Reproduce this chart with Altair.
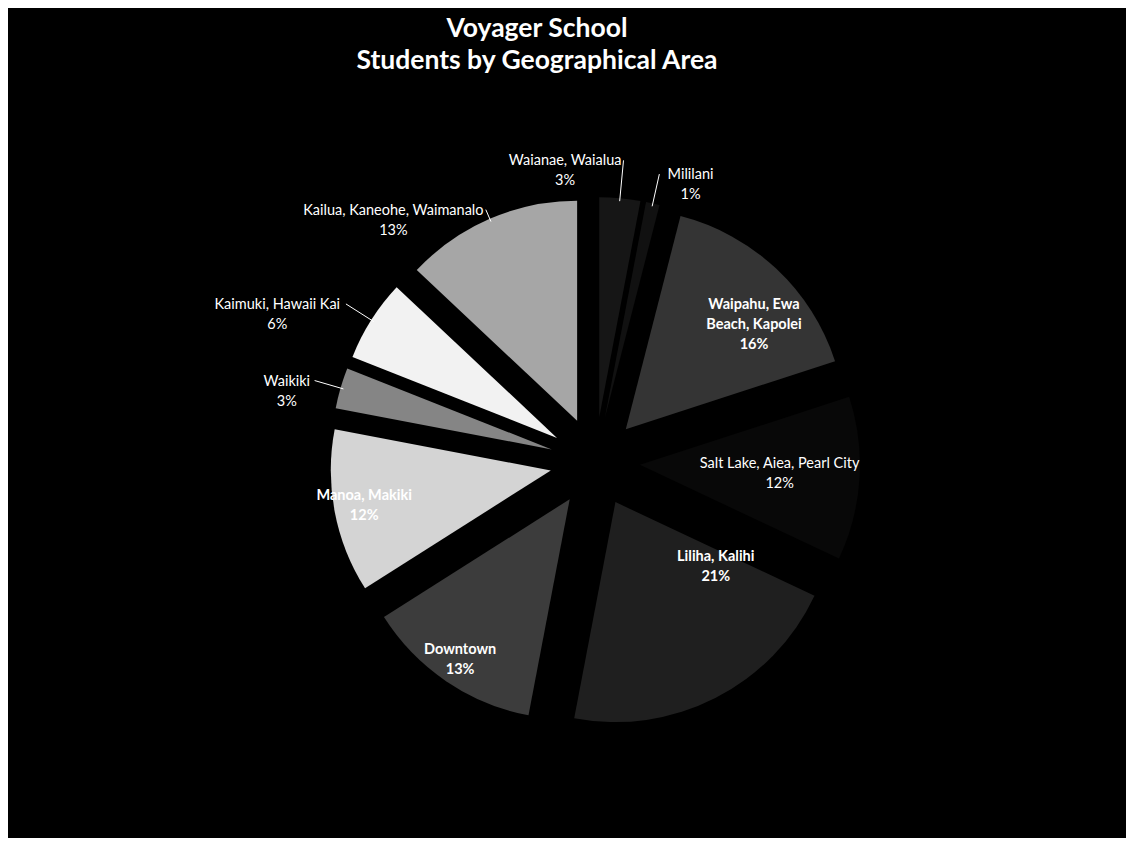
import altair as alt
import pandas as pd

# ---------------- data ----------------
areas = [
    "Waianae, Waialua",
    "Mililani",
    "Waipahu, Ewa Beach, Kapolei",
    "Salt Lake, Aiea, Pearl City",
    "Liliha, Kalihi",
    "Downtown",
    "Manoa, Makiki",
    "Waikiki",
    "Kaimuki, Hawaii Kai",
    "Kailua, Kaneohe, Waimanalo",
]
percent = [3, 1, 16, 12, 21, 13, 12, 3, 6, 13]
title_lines = ["Voyager School", "Students by Geographical Area"]

# ---------------- style ----------------
grays = ["#161616", "#111111", "#343434", "#080808", "#1f1f1f",
         "#3c3c3c", "#d4d4d4", "#858585", "#f2f2f2", "#a6a6a6"]
wrap = {"Waipahu, Ewa Beach, Kapolei": "Waipahu, Ewa\nBeach, Kapolei"}
# outside labels: side of the leader (-1 left, 1 right) and leader extension
outside_side = {"Waianae, Waialua": -1, "Mililani": 1,
                "Kailua, Kaneohe, Waimanalo": -1,
                "Kaimuki, Hawaii Kai": -1, "Waikiki": -1}
leader_ext = {"Waianae, Waialua": 38, "Mililani": 30,
              "Kailua, Kaneohe, Waimanalo": 10,
              "Kaimuki, Hawaii Kai": 30, "Waikiki": 27}
# inside labels: radius and angular nudge (degrees)
inside_r = {"Salt Lake, Aiea, Pearl City": 185, "Liliha, Kalihi": 160,
            "Waipahu, Ewa Beach, Kapolei": 210, "Downtown": 240,
            "Manoa, Makiki": 235}
inside_dtheta = {"Liliha, Kalihi": -22, "Waipahu, Ewa Beach, Kapolei": 6}
bold_labels = {"Waipahu, Ewa Beach, Kapolei", "Downtown", "Manoa, Makiki", "Liliha, Kalihi"}

W, H = 1118, 830
CX, CY = 587, 454
R, E = 220, 45
R_IN = 226
FS = 14.5
CW = 3.4  # half char width estimate
LH = 20
FONT = "Lato"

df = pd.DataFrame({
    "area": areas,
    "pct": percent,
    "order": list(range(len(areas))),
})
df["label"] = [wrap.get(a, a) + "\n" + f"{p}%" for a, p in zip(areas, percent)]
df["nlines"] = [lab.count("\n") + 1 for lab in df["label"]]
df["outside"] = [a in outside_side for a in areas]
df["side"] = [outside_side.get(a, 0) for a in areas]
df["lr"] = [R + E + leader_ext[a] if a in leader_ext else inside_r.get(a, R_IN) for a in areas]
df["dth"] = [inside_dtheta.get(a, 0) for a in areas]
df["bold"] = [a in bold_labels for a in areas]

base = alt.Chart(df).transform_window(
    cum="sum(pct)", sort=[alt.SortField("order")], frame=[None, 0]
).transform_joinaggregate(
    total="sum(pct)"
).transform_calculate(
    t1="datum.cum / datum.total * 2 * PI"
).transform_calculate(
    t0="(datum.cum - datum.pct) / datum.total * 2 * PI"
).transform_calculate(
    mid="(datum.t0 + datum.t1) / 2"
).transform_calculate(
    sx=f"{CX} + {E} * sin(datum.mid)",
    sy=f"{CY} - {E} * cos(datum.mid)",
)

arcs = base.mark_arc(radius=R, strokeWidth=0).encode(
    theta=alt.Theta("t0:Q", scale=None),
    theta2=alt.Theta2("t1:Q"),
    x=alt.X("sx:Q", scale=None, axis=None),
    y=alt.Y("sy:Q", scale=None, axis=None),
    color=alt.Color("area:N", scale=alt.Scale(domain=areas, range=grays), legend=None),
)

lab = base.transform_calculate(
    la="datum.mid + datum.dth * PI / 180"
).transform_calculate(
    ax=f"{CX} + datum.lr * sin(datum.la)",
    ay=f"{CY} - datum.lr * cos(datum.la)",
    hw=f"length(datum.area) * {CW}",
).transform_calculate(
    lx="datum.outside ? datum.ax + datum.side * (datum.hw + 4) : datum.ax",
    ly=f"datum.outside ? datum.ay + 1 : datum.ay - (datum.nlines - 1) * {LH} / 2",
)

def text_layer(bold):
    return lab.transform_filter(
        "datum.bold" if bold else "!datum.bold"
    ).mark_text(
        font=FONT, fontSize=FS, fontWeight="bold" if bold else "normal",
        color="white", align="center", baseline="middle", lineBreak="\n",
        lineHeight=LH,
    ).encode(
        x=alt.X("lx:Q", scale=None, axis=None),
        y=alt.Y("ly:Q", scale=None, axis=None),
        text="label:N",
    )

leaders = base.transform_filter("datum.outside").transform_calculate(
    x1=f"{CX} + {R + E - 3} * sin(datum.mid)",
    y1=f"{CY} - {R + E - 3} * cos(datum.mid)",
    x2="%d + datum.lr * sin(datum.mid)" % CX,
    y2="%d - datum.lr * cos(datum.mid)" % CY,
).mark_rule(color="white", strokeWidth=1).encode(
    x=alt.X("x1:Q", scale=None, axis=None),
    y=alt.Y("y1:Q", scale=None, axis=None),
    x2="x2:Q",
    y2="y2:Q",
)

title = alt.Chart(pd.DataFrame({"t": ["\n".join(title_lines)]})).mark_text(
    font=FONT, fontSize=26.5, fontWeight="bold", color="white",
    align="center", baseline="middle", lineBreak="\n", lineHeight=32,
).encode(x=alt.value(529), y=alt.value(21), text="t:N")

chart = alt.layer(arcs, leaders, text_layer(False), text_layer(True), title).properties(
    width=W, height=H, background="black", padding=0,
    autosize=alt.AutoSizeParams(type="none"),
).configure_view(stroke=None)

chart.save("out.html", embed_options={"renderer": "svg", "actions": False})
